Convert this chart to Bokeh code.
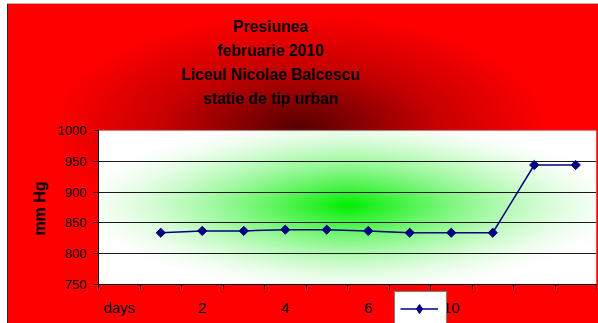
import numpy as np
from bokeh.plotting import figure
from bokeh.models import (FixedTicker, Legend, LegendItem, InlineStyleSheet, Range1d,
                          Label, BoxAnnotation)
from bokeh.embed import file_html
from bokeh.resources import INLINE

# Daily pressure readings (mm Hg), placed on category slots 2..12
day_pos = [2, 3, 4, 5, 6, 7, 8, 9, 10, 11, 12]
pressure = [834, 837, 837, 839, 839, 837, 834, 834, 834, 944, 944]

# Category slots along the x axis and the labels printed under them
slot_pos = [1, 2, 3, 4, 5, 6, 7, 8, 9, 10, 11, 12]
slot_labels = ["days", "", "2", "", "4", "", "6", "", "10", "", "", ""]
slot_edges = [0.5, 1.5, 2.5, 3.5, 4.5, 5.5, 6.5, 7.5, 8.5, 9.5, 10.5, 11.5, 12.5]
x_min, x_max = 0.5, 12.5

y_ticks = [750, 800, 850, 900, 950, 1000]
grid_ticks = [800, 850, 900, 950]
y_min, y_max = 750, 1000

title_lines = ["Presiunea", "februarie 2010", "Liceul Nicolae Balcescu", "statie de tip urban"]
y_title = "mm Hg"

FONT = "Liberation Sans"

# The frame spans the whole chart so the title, axis title and legend can sit
# in the red chart area; the plot area itself is the box below.
W, H = 598, 323
PLOT_LEFT, PLOT_RIGHT = 98, 596
PLOT_TOP, PLOT_BOTTOM = 130, 284
y_per_px = (y_max - y_min) / (PLOT_BOTTOM - PLOT_TOP)
x_per_px = (x_max - x_min) / (PLOT_RIGHT - PLOT_LEFT)
view_y = (y_min - (H - PLOT_BOTTOM) * y_per_px, y_max + PLOT_TOP * y_per_px)
view_x = (x_min - PLOT_LEFT * x_per_px, x_max)

p = figure(width=W, height=H,
           x_range=Range1d(*view_x), y_range=Range1d(*view_y),
           output_backend="svg", toolbar_location=None,
           min_border_left=0, min_border_right=W - PLOT_RIGHT,
           min_border_top=0, min_border_bottom=0,
           background_fill_alpha=0, border_fill_alpha=0)
p.outline_line_color = None

# red chart area with a dark glow behind the title, plus the thin frame edges
p.stylesheets = [InlineStyleSheet(css="""
:host {
  background:
    linear-gradient(#b4b4b4, #b4b4b4) 7px 3px / 591px 1px no-repeat,
    linear-gradient(#262626, #262626) 7px 3px / 1px 320px no-repeat,
    radial-gradient(ellipse 250px 114px at 292px 124px,
                    #560000 0%, #8a0000 25%, #c80000 55%, #ff0000 100%) 8px 4px / 590px 319px no-repeat,
    #ffffff;
}
""")]

# white plot area with a soft green glow (pixel grid of the plot area)
nx, ny = PLOT_RIGHT - PLOT_LEFT, PLOT_BOTTOM - PLOT_TOP
xx, yy = np.meshgrid(np.arange(nx) + 0.5, np.arange(ny) + 0.5)
dx = np.abs(xx - 250) / 280.0
dy = np.abs(yy - 79) / 90.0
t = np.clip((dx ** 1.7 + dy ** 1.7) ** (1 / 1.7), 0, 1)
k = (1 - t) ** 1.5
img = np.empty((ny, nx), dtype=np.uint32)
view = img.view(dtype=np.uint8).reshape((ny, nx, 4))
view[:, :, 0] = (255 * (1 - k)).astype(np.uint8)
view[:, :, 1] = (255 - 17 * k).astype(np.uint8)
view[:, :, 2] = (255 * (1 - k)).astype(np.uint8)
view[:, :, 3] = 255
p.image_rgba(image=[img], x=x_min, y=y_min, dw=x_max - x_min, dh=y_max - y_min, level="image")

# plot-area border
p.add_layout(BoxAnnotation(left=x_min, right=x_max, bottom=y_min, top=y_max,
                           fill_alpha=0, line_color="#888888", line_width=1.5,
                           level="underlay"))

# series: line with diamond markers
line = p.line(day_pos, pressure, line_color="#000080", line_width=1.5)
pts = p.scatter(day_pos, pressure, marker="square", angle=np.pi / 4, size=6.5,
                fill_color="#000080", line_color="#000080")
# hidden copy of the markers, used only as the legend swatch
swatch = p.scatter(day_pos, pressure, marker="diamond", size=11,
                   fill_color="#000080", line_color="#000080", visible=False)

legend = Legend(items=[LegendItem(label="Series1", renderers=[line, swatch])],
                location=(394, -3), orientation="vertical",
                padding=5, margin=0, spacing=0,
                glyph_width=38, glyph_height=23, label_width=0, label_height=23,
                label_standoff=0, label_text_font_size="1px", label_text_alpha=0,
                border_line_color="black", border_line_width=1,
                background_fill_color="white", background_fill_alpha=1,
                inactive_fill_alpha=0)
p.add_layout(legend)

# four-line chart title, each line centred
for i, txt in enumerate(title_lines):
    p.add_layout(Label(x=270, y=H - 26 - 24 * i, x_units="screen", y_units="screen",
                       text=txt, text_align="center", text_baseline="middle",
                       text_font=FONT, text_font_size="15.7px", text_font_style="bold",
                       text_color="black"))

# value-axis title
p.add_layout(Label(x=39, y=H - 208, x_units="screen", y_units="screen",
                   text=y_title, angle=np.pi / 2, text_align="center", text_baseline="middle",
                   text_font=FONT, text_font_size="16px", text_font_style="bold",
                   text_color="black"))

# grid
p.xgrid.visible = False
p.ygrid.ticker = FixedTicker(ticks=grid_ticks)
p.ygrid.cross_bounds = (x_min, x_max)
p.ygrid.grid_line_color = "#1a1a1a"
p.ygrid.grid_line_width = 1

# category axis along the bottom of the plot area
xa = p.xaxis[0]
xa.fixed_location = y_min
xa.bounds = (x_min, x_max)
xa.ticker = FixedTicker(ticks=slot_pos, minor_ticks=slot_edges)
xa.major_label_overrides = {pos: lab for pos, lab in zip(slot_pos, slot_labels)}
xa.major_tick_out = 0
xa.major_tick_in = 0
xa.minor_tick_out = 5
xa.minor_tick_in = 0
xa.minor_tick_line_color = "black"
xa.axis_line_color = "black"
xa.major_label_standoff = 9
xa.major_label_text_font = FONT
xa.major_label_text_font_size = "15px"
xa.major_label_text_color = "black"

# value axis along the left of the plot area
ya = p.yaxis[0]
ya.fixed_location = x_min
ya.bounds = (y_min, y_max)
ya.ticker = FixedTicker(ticks=y_ticks)
ya.major_tick_out = 5
ya.major_tick_in = 0
ya.major_tick_line_color = "black"
ya.axis_line_color = "black"
ya.minor_tick_line_color = None
ya.major_label_standoff = 7
ya.major_label_text_font = FONT
ya.major_label_text_font_size = "13px"
ya.major_label_text_color = "black"

open("out.html", "w").write(file_html(p, INLINE))
